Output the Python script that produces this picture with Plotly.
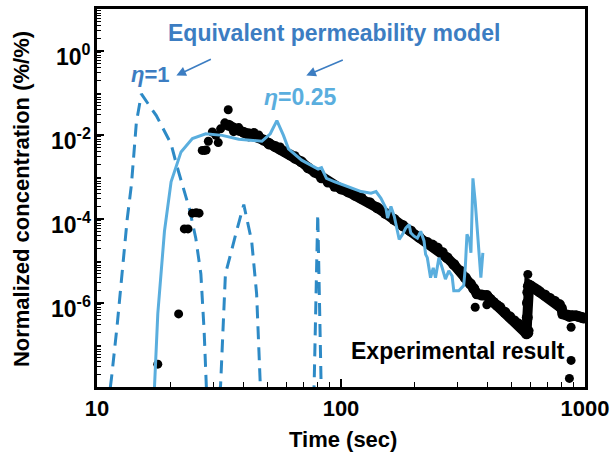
import math
import plotly.graph_objects as go

# ---------------- data ----------------
# Experimental result: main band (black dots, time order)
t_band = [34.7, 36.3, 38.1, 40.0, 41.9, 44.0, 46.0, 48.2, 50.5, 53.8, 56.3, 59.0, 61.8, 64.8, 68.8, 73.4, 78.0,
          83.2, 88.5, 94.3, 100, 107, 114, 121, 131, 141, 152, 165, 179, 193, 209, 226, 237, 248, 260, 272,
          290, 308, 323, 339, 350, 361, 378, 396, 409, 422, 435, 448, 470, 492, 512, 532, 549, 567, 576,
          580, 581, 583, 586, 590, 603, 620, 636, 652, 684, 716, 750, 786, 800, 811, 837, 863, 890, 919,
          940, 963, 985]
c_band = [1.7e-2, 1.4e-2, 1.3e-2, 1.15e-2, 1.07e-2, 9.8e-3, 8.9e-3, 7.6e-3, 6.4e-3, 5.3e-3, 4.6e-3, 4.0e-3, 3.4e-3,
          2.8e-3, 2.3e-3, 1.65e-3, 1.3e-3, 9.6e-4, 7.6e-4, 6.0e-4, 5.2e-4, 4.4e-4, 3.7e-4, 3.15e-4, 2.45e-4,
          1.85e-4, 1.37e-4, 9.8e-5, 7.0e-5, 5.2e-5, 3.7e-5, 2.75e-5, 2.4e-5, 2.05e-5, 1.6e-5, 1.2e-5, 8.3e-6,
          5.8e-6, 4.0e-6, 2.85e-6, 2.2e-6, 1.65e-6, 1.55e-6, 1.5e-6, 1.22e-6, 1.03e-6, 8.9e-7, 7.9e-7, 6.0e-7,
          4.7e-7, 3.8e-7, 3.2e-7, 2.6e-7, 2.2e-7, 1.85e-7, 4.5e-7, 1.0e-6, 1.8e-6, 2.5e-6, 2.7e-6, 2.5e-6,
          2.25e-6, 2.05e-6, 1.85e-6, 1.55e-6, 1.3e-6, 1.1e-6, 9.2e-7, 7.5e-7, 5.5e-7, 5.2e-7, 4.8e-7, 5.0e-7,
          5.0e-7, 4.8e-7, 4.6e-7, 4.4e-7]
# Experimental result: scattered dots off the band
t_dots = [17.75, 21.6, 22.8, 23.6, 24.6, 25.5, 26.2, 27.0, 27.6, 28.0, 28.6, 29.7, 30.7, 31.4, 32.1, 33.4, 34.5,
          36.3, 38.1, 41.9, 46.0, 50.5, 56.3, 44.0, 64.8, 583, 588, 590, 354.8, 396, 877, 877, 863]
c_dots = [3.5e-8, 5.5e-7, 5.8e-5, 5.8e-5, 1.38e-4, 1.4e-4, 1.38e-4, 4.3e-3, 4.3e-3, 4.4e-3, 7.1e-3, 1.18e-2, 9.8e-3,
          6.6e-3, 1.4e-2, 1.95e-2, 4.0e-2, 1.2e-2, 1.5e-2, 9.0e-3, 1.0e-2, 5.8e-3, 5.2e-3, 1.15e-2, 3.2e-3,
          4.8e-6, 1.9e-7, 2.2e-7, 7.9e-7, 9.1e-7, 2.65e-7, 4.3e-8, 1.6e-8]

# Equivalent permeability model, eta = 1 (dashed)
t_eta1 = [10.8, 11.48, 12.1, 12.76, 13.3, 13.84, 14.5, 15.2, 15.8, 16.6, 17.5, 18.8, 20.1, 21.3, 22.6, 23.9, 25.4, 26.65, 27.48, 28.2,
          31.5, 32.1, 33.6, 35.7, 37.8, 39.96, 41.5, 43.05, 45.1, 46.7, 47.5,
          77.0, 77.6, 80.3, 82.9, 83.5]
c_eta1 = [1e-9, 1.74e-8, 3e-7, 6.8e-6, 1e-4, 6.6e-4, 2.0e-2, 9.5e-2, 7.0e-2, 4.5e-2, 2.9e-2, 1.26e-2, 6.2e-3, 1.75e-3, 5.6e-4, 1.78e-4, 3.5e-5, 4.9e-6, 2.2e-7, 5e-9,
          5e-9, 1.1e-8, 4.9e-6, 2.0e-5, 6.8e-5, 2.2e-4, 7.9e-5, 2.95e-5, 1.66e-6, 1.1e-8, 5e-9,
          5e-9, 1.1e-8, 1.3e-4, 1.1e-8, 5e-9]

# Equivalent permeability model, eta = 0.25 (solid)
t_eta025 = [16.9, 17.75, 18.9, 20.12, 22.1, 24.6, 27.9, 32.6, 38.1, 47.4, 51.3, 54.6, 58.1, 60.9, 69.0, 80.6, 83.2, 87.2, 94.3,
            106.8, 121, 132.8, 139.2, 145.8, 152.8, 155.2, 160.2, 165.3, 170.5, 173.2, 178.6, 184.2, 190.2, 193.1, 199.3,
            205.6, 212.1, 218.9, 222.2, 225.8, 232.8, 238.8, 244.0, 251.9, 259.8, 267.9, 276.6, 285.3, 289.9, 303.8,
            318.3, 323.1, 328.3, 336.7, 340.8, 347.3, 354.8, 362.9, 369.8, 374.3, 381.4]
c_eta025 = [1e-9, 5.6e-7, 5.1e-5, 7.7e-4, 3.96e-3, 8.2e-3, 1.07e-2, 9.8e-3, 7.9e-3, 7.1e-3, 1.07e-2, 2.2e-2, 9.8e-3, 4.7e-3, 2.52e-3, 1.55e-3, 1.66e-3, 9.3e-4, 7.7e-4,
            5.9e-4, 4.5e-4, 4.1e-4, 4.5e-4, 3.1e-4, 1.8e-4, 1.05e-4, 2.0e-4, 1.16e-4, 5.1e-5, 3.25e-5, 4.3e-5, 6.1e-5, 7.4e-5, 4.7e-5, 3.9e-5,
            3.5e-5, 5.1e-5, 3.0e-5, 1.44e-5, 1.2e-5, 4.0e-6, 6.9e-6, 4.0e-6, 1.2e-5, 6.9e-6, 3.7e-6, 5.8e-6, 4.4e-6, 1.95e-6, 1.95e-6,
            2.6e-6, 6.9e-6, 4.3e-5, 3.0e-5, 1.57e-5, 9.3e-4, 2.6e-4, 4.3e-5, 8.4e-6, 4.0e-6, 1.57e-5]

x_tickvals = [10, 100, 1000]
x_ticktext = ["10", "100", "1000"]
y_tickvals = [1e-6, 1e-4, 1e-2, 1]
y_ticktext = ["10<sup>-6</sup>", "10<sup>-4</sup>", "10<sup>-2</sup>", "10<sup>0</sup>"]

# ---------------- figure ----------------
FONT = "Liberation Sans, Arial, sans-serif"
BLUE_TXT = "#3c7dc2"
DASH_BLUE = "#2d8ac6"
SOLID_BLUE = "#5aaede"

fig = go.Figure()
fig.add_trace(go.Scatter(x=t_eta1, y=c_eta1, mode="lines",
                         line=dict(color=DASH_BLUE, width=3, dash="13px,8px"), showlegend=False))
fig.add_trace(go.Scatter(x=t_band, y=c_band, mode="lines+markers",
                         line=dict(color="black", width=10), marker=dict(color="black", size=11),
                         showlegend=False))
fig.add_trace(go.Scatter(x=t_dots, y=c_dots, mode="markers",
                         marker=dict(color="black", size=9, line=dict(width=0)), showlegend=False))
fig.add_trace(go.Scatter(x=t_eta025, y=c_eta025, mode="lines",
                         line=dict(color=SOLID_BLUE, width=3), showlegend=False))

x_minor = [m * 10 ** k for k in (1, 2) for m in range(2, 10)]
y_minor = [m * 10.0 ** k for k in range(-8, 1) for m in range(2, 10)] + [10.0 ** k for k in (-7, -5, -3, -1)]

fig.update_xaxes(type="log", range=[1, 3], showline=True, linewidth=3, linecolor="black", mirror=True,
                 ticks="inside", ticklen=8, tickwidth=1.5, tickcolor="black",
                 tickvals=x_tickvals, ticktext=x_ticktext, showgrid=False, zeroline=False,
                 tickfont=dict(family=FONT, size=22, color="black", weight="bold"),
                 ticklabelstandoff=0,
                 minor=dict(tickvals=x_minor, ticks="inside", ticklen=5, tickwidth=1, tickcolor="black", showgrid=False))
fig.update_yaxes(type="log", range=[-8, 1], showline=True, linewidth=3, linecolor="black", mirror=True,
                 ticks="inside", ticklen=7, tickwidth=1.5, tickcolor="black",
                 tickvals=y_tickvals, showticklabels=False, showgrid=False, zeroline=False,
                 minor=dict(tickvals=y_minor, ticks="inside", ticklen=4, tickwidth=1, tickcolor="black", showgrid=False))

W, H = 615, 461
L, R, T, B = 97, 26, 6, 74
pw, ph = W - L - R, H - T - B


def px(x):
    return (x - L) / pw


def py(y):
    return (H - B - y) / ph


annotations = []
# y tick labels, placed at the tick values
for v, txt in zip(y_tickvals, y_ticktext):
    annotations.append(dict(text="<b>" + txt + "</b>", xref="paper", yref="y", x=px(93), y=math.log10(v),
                            xanchor="right", yanchor="middle", yshift=-4, showarrow=False,
                            font=dict(family=FONT, size=23, color="black")))

ann = [
    dict(text="<b>Normalized concentration (%/%)</b>", x=px(21), y=py(198), textangle=-90,
         font=dict(family=FONT, size=22, color="black")),
    dict(text="<b>Time (sec)</b>", x=px(345), y=py(440), font=dict(family=FONT, size=22, color="black")),
    dict(text="<b>Equivalent permeability model</b>", x=px(336), y=py(30),
         font=dict(family=FONT, size=23, color=BLUE_TXT)),
    dict(text="<b><i>η</i>=1</b>", x=px(151), y=py(72), font=dict(family=FONT, size=22, color=BLUE_TXT)),
    dict(text="<b><i>η</i>=0.25</b>", x=px(302), y=py(95), font=dict(family=FONT, size=23, color=SOLID_BLUE)),
    dict(text="<b>Experimental result</b>", x=px(461), y=py(351), font=dict(family=FONT, size=23, color="black")),
]
for a in ann:
    a.update(xref="paper", yref="paper", showarrow=False, xanchor="center", yanchor="middle")
    annotations.append(a)

for (hx, hy, tx, ty) in [(177, 73, 213, 56), (308, 73, 346, 57)]:
    annotations.append(dict(x=px(hx), y=py(hy), xref="paper", yref="paper", text="",
                            showarrow=True, ax=tx - hx, ay=ty - hy, axref="pixel", ayref="pixel",
                            arrowhead=2, arrowsize=1.2, arrowwidth=1.6, arrowcolor=BLUE_TXT))

fig.update_layout(width=W, height=H, margin=dict(l=L, r=R, t=T, b=B),
                  plot_bgcolor="white", paper_bgcolor="white", annotations=annotations,
                  font=dict(family=FONT))

fig.write_html("out.html", config={"displayModeBar": False},
               post_script="document.body.style.margin='0px';")
